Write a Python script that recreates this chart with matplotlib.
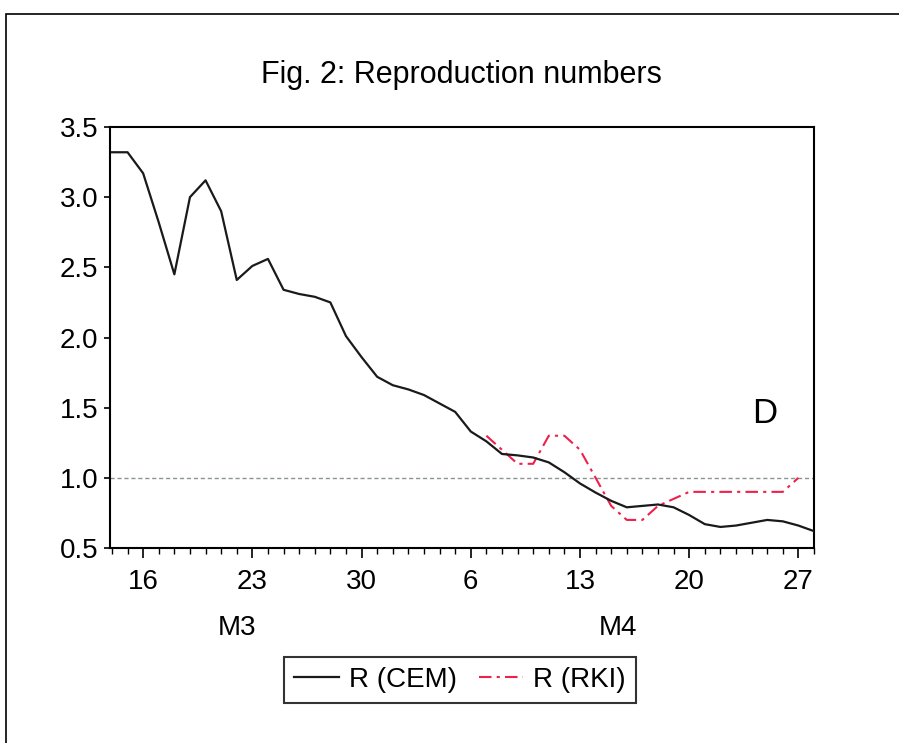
import numpy as np
import pandas as pd
import matplotlib
matplotlib.use("Agg")
import matplotlib.pyplot as plt
import matplotlib.dates as mdates
import matplotlib.transforms as mtransforms
from matplotlib.patches import Rectangle
from matplotlib.ticker import FuncFormatter

plt.rcParams["font.family"] = ["Liberation Sans", "DejaVu Sans"]

# daily R estimates, Mar 14 .. Apr 28 (2020)
cem_dates = pd.date_range("2020-03-14", "2020-04-28", freq="D")
r_cem = [3.32, 3.32, 3.17, 2.82, 2.45, 3.00, 3.12, 2.90, 2.41, 2.51,
         2.56, 2.34, 2.31, 2.29, 2.25, 2.01, 1.86, 1.72, 1.66, 1.63,
         1.59, 1.53, 1.47, 1.33, 1.26, 1.17, 1.16, 1.145, 1.11, 1.04,
         0.96, 0.895, 0.836, 0.79, 0.80, 0.81, 0.79, 0.735, 0.67, 0.65,
         0.66, 0.68, 0.70, 0.69, 0.66, 0.62]

# RKI nowcast, Apr 7 .. Apr 27
rki_dates = pd.date_range("2020-04-07", "2020-04-27", freq="D")
r_rki = [1.3, 1.2, 1.1, 1.1, 1.3, 1.3, 1.2, 1.0, 0.8, 0.7,
         0.7, 0.8, 0.85, 0.9, 0.9, 0.9, 0.9, 0.9, 0.9, 0.9, 1.0]

month_labels = ["M3", "M4"]
month_centers = [pd.Timestamp("2020-03-22"), pd.Timestamp("2020-04-15 10:00")]

fig = plt.figure(figsize=(8.99, 7.43), dpi=100)
ax = fig.add_axes([110 / 899, 1 - 548 / 743, 704 / 899, 421 / 743])

ax.axhline(1.0, color="#8c9494", lw=1.0, ls=(0, (3, 2)), zorder=1)
ax.plot(cem_dates, r_cem, color="#1a1a1a", lw=1.6, label="R (CEM)", zorder=3)
ax.plot(rki_dates, r_rki, color="#f0204a", lw=1.5,
        ls=(0, (6, 2.5, 1.5, 2.5)), label="R (RKI)", zorder=2)

ax.set_xlim(pd.Timestamp("2020-03-13 21:00"), pd.Timestamp("2020-04-28"))
ax.set_ylim(0.5, 3.5)
ax.set_yticks([0.5, 1.0, 1.5, 2.0, 2.5, 3.0, 3.5])
ax.yaxis.set_major_formatter(FuncFormatter(lambda v, p: f"{v:.1f}"))

ax.xaxis.set_major_locator(mdates.WeekdayLocator(byweekday=mdates.MO))
ax.xaxis.set_minor_locator(mdates.DayLocator())
ax.xaxis.set_major_formatter(FuncFormatter(lambda v, p: str(mdates.num2date(v).day)))

for s in ax.spines.values():
    s.set_linewidth(1.5)
ax.tick_params(axis="y", which="major", direction="out", length=4.5, width=1.2,
               labelsize=20, pad=4)
ax.tick_params(axis="x", which="major", direction="out", length=7, width=1.2,
               labelsize=20, pad=8)
ax.tick_params(axis="x", which="minor", direction="out", length=4, width=1.0)

# month labels below the day ticks
trans = mtransforms.blended_transform_factory(ax.transData, ax.transAxes)
for lab, c in zip(month_labels, month_centers):
    ax.text(c, -0.19, lab, transform=trans, ha="center", va="center", fontsize=20)

ax.text(0.93, 0.32, "D", transform=ax.transAxes, ha="center", va="center", fontsize=25)

fig.text(461 / 899, 1 - 75 / 743, "Fig. 2: Reproduction numbers",
         ha="center", va="center", fontsize=22)

leg = fig.legend(loc="center", bbox_to_anchor=(460 / 899, 1 - 680 / 743), ncol=2,
                 fontsize=20, frameon=True, fancybox=False, handlelength=1.6,
                 columnspacing=0.8, handletextpad=0.36, borderpad=0.35,
                 borderaxespad=0)
leg.get_frame().set_edgecolor("black")
leg.get_frame().set_linewidth(1.5)

# outer frame of the original panel (right/bottom edges fall outside the image)
fig.patches.append(Rectangle((6 / 899, -0.2), 1.2, 1.2 - 14 / 743,
                             transform=fig.transFigure, fill=False,
                             edgecolor="black", lw=1.2))

fig.savefig("out.png", dpi=100)
